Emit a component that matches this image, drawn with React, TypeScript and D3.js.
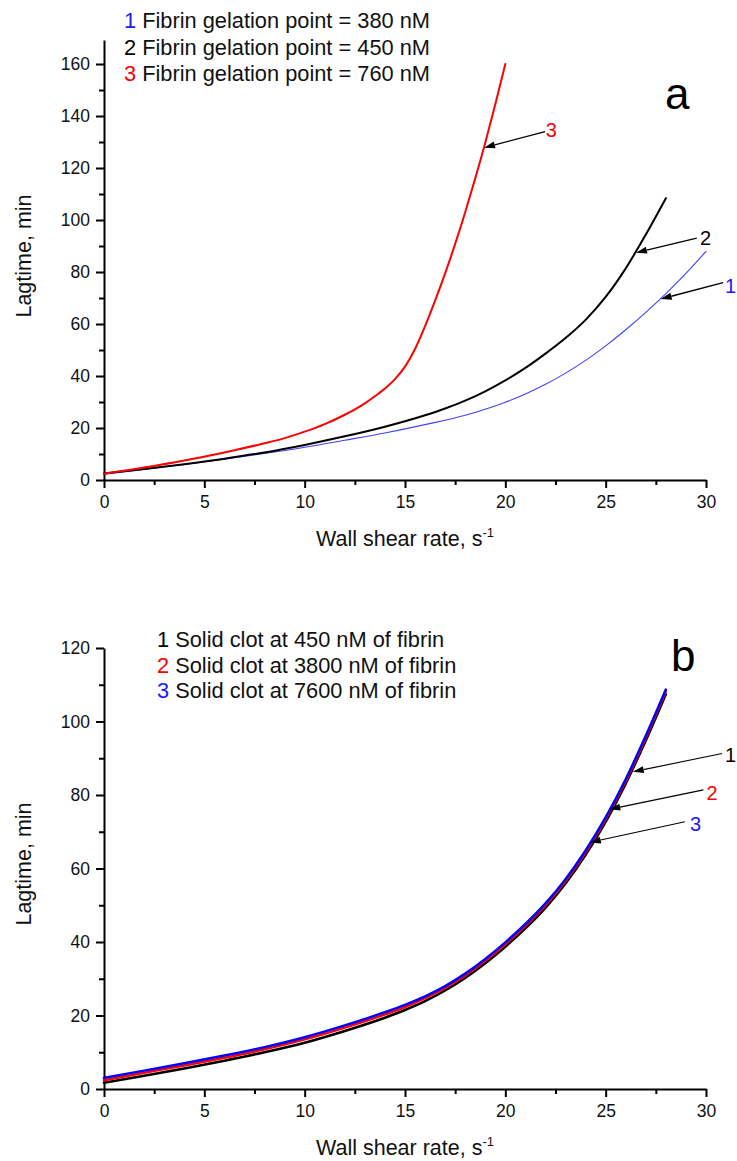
import React, { useEffect, useRef } from 'react';
import * as d3 from 'd3';

// ---------- data ----------
const X_TICKS = [0, 5, 10, 15, 20, 25, 30];
const X_MINOR = [2.5, 7.5, 12.5, 17.5, 22.5, 27.5];
const A_Y_TICKS = [0, 20, 40, 60, 80, 100, 120, 140, 160];
const A_Y_MINOR = [10, 30, 50, 70, 90, 110, 130, 150];
const B_Y_TICKS = [0, 20, 40, 60, 80, 100, 120];
const B_Y_MINOR = [10, 30, 50, 70, 90, 110];

// Panel a
const aX1 = [0, 2, 4, 6, 8, 10, 12, 14, 16, 18, 20, 21, 22, 23, 24, 25, 26, 27, 28, 29, 30];
const aY1 = [2.2, 4.1, 6.0, 8.0, 10.2, 12.6, 15.3, 18.1, 21.3, 24.9, 29.9, 33.1, 36.8, 41.1, 46.0, 51.6, 57.8, 64.5, 71.7, 79.5, 87.9];
const aX2 = [0, 2, 4, 6, 8, 10, 12, 14, 16, 17, 18, 19, 20, 21, 22, 23, 24, 25, 26, 27, 28];
const aY2 = [2.5, 4.2, 6.1, 8.2, 10.6, 13.5, 16.8, 20.5, 24.9, 27.5, 30.5, 34.1, 38.3, 43.1, 48.6, 54.6, 61.6, 70.4, 81.4, 94.4, 108.4];
const aX3 = [0, 2, 4, 6, 8, 9, 10, 11, 12, 13, 13.5, 14, 14.5, 15, 15.5, 16, 16.5, 17, 17.5, 18, 18.5, 19, 19.5, 20];
const aY3 = [2.4, 4.8, 7.5, 10.6, 14.1, 16.1, 18.6, 21.5, 25.1, 29.5, 32.2, 35.2, 38.8, 43.6, 50.4, 59.2, 69.0, 79.5, 90.8, 103, 116, 129.7, 144.5, 160];

const A_LEGEND_NUMS = ['1', '2', '3'];
const A_LEGEND_TEXT = ['Fibrin gelation point = 380 nM', 'Fibrin gelation point = 450 nM', 'Fibrin gelation point = 760 nM'];
const A_LEGEND_COLORS = ['#1a1aff', '#000000', '#ff0000'];

const aArrowLabels = ['1', '2', '3'];
const aArrowLabelColors = ['#1a1aff', '#000000', '#ff0000'];
const aArrowTipX = [27.74, 26.51, 18.94];
const aArrowTipY = [69.6, 87.4, 127.8];
const aArrowFromX = [30.85, 29.54, 21.98];
const aArrowFromY = [75.9, 93.0, 134.0];
const aLabelX = [30.95, 29.7, 22.01];
const aLabelY = [72.0, 90.4, 131.8];

// Panel b
const bX = [0, 2, 4, 6, 8, 10, 12, 14, 15, 16, 17, 18, 19, 20, 21, 22, 23, 24, 25, 26, 27, 28];
const bBlack = [1.7, 3.6, 5.6, 7.7, 10.0, 12.6, 15.8, 19.4, 21.5, 23.9, 26.8, 30.2, 34.2, 38.7, 43.7, 49.3, 55.9, 63.7, 72.7, 83.1, 94.8, 107.4];
const bRed = [2.4, 4.4, 6.4, 8.5, 10.8, 13.5, 16.7, 20.3, 22.3, 24.7, 27.5, 30.9, 34.9, 39.4, 44.4, 50.0, 56.6, 64.4, 73.4, 83.8, 95.6, 108.2];
const bBlue = [3.0, 5.0, 7.0, 9.1, 11.4, 14.1, 17.3, 20.9, 22.9, 25.2, 28.0, 31.4, 35.4, 39.9, 44.9, 50.5, 57.1, 64.9, 73.9, 84.3, 96.1, 108.7];

const B_LEGEND_NUMS = ['1', '2', '3'];
const B_LEGEND_TEXT = ['Solid clot at 450 nM of fibrin', 'Solid clot at 3800 nM of fibrin', 'Solid clot at 7600 nM of fibrin'];
const B_LEGEND_COLORS = ['#000000', '#ff0000', '#1a1aff'];

const bArrowLabels = ['1', '2', '3'];
const bArrowLabelColors = ['#000000', '#ff0000', '#1a1aff'];
const bArrowTipX = [26.35, 25.18, 24.21];
const bArrowTipY = [86.3, 76.1, 67.1];
const bArrowFromX = [30.8, 29.87, 28.95];
const bArrowFromY = [91.3, 81.4, 72.7];
const bLabelX = [30.95, 30.03, 29.2];
const bLabelY = [89.06, 78.6, 70.2];

const FONT = '"Liberation Sans", Arial, sans-serif';

type Series = { xs: number[]; ys: number[]; color: string; width: number };

function drawPanel(svg: any, cfg: any) {
  const x = d3.scaleLinear().domain([0, 30]).range([104, 706]);
  const y = d3.scaleLinear().domain(cfg.yDomain).range(cfg.yRange);
  const g = svg.append('g');

  const xAxis = d3.axisBottom(x).tickValues(X_TICKS).tickSize(8).tickPadding(8).tickSizeOuter(0).tickFormat(d3.format('d') as any);
  const xMinor = d3.axisBottom(x).tickValues(X_MINOR).tickSize(5).tickSizeOuter(0).tickFormat(() => '');
  const yAxis = d3.axisLeft(y).tickValues(cfg.yTicks).tickSize(8).tickPadding(6).tickSizeOuter(0).tickFormat(d3.format('d') as any);
  const yMinor = d3.axisLeft(y).tickValues(cfg.yMinor).tickSize(5).tickSizeOuter(0).tickFormat(() => '');

  const base = cfg.yRange[0];
  const gx = g.append('g').attr('transform', `translate(0,${base})`).call(xAxis);
  const gxm = g.append('g').attr('transform', `translate(0,${base})`).call(xMinor);
  const gy = g.append('g').attr('transform', `translate(104,0)`).call(yAxis);
  const gym = g.append('g').attr('transform', `translate(104,0)`).call(yMinor);
  [gx, gxm, gy, gym].forEach((a: any) => {
    a.selectAll('path').attr('stroke', '#000').attr('stroke-width', 2);
    a.selectAll('line').attr('stroke', '#000').attr('stroke-width', 2);
    a.selectAll('text').attr('font-family', FONT).attr('font-size', 17.5).attr('fill', '#111');
  });
  gxm.select('path').remove();
  gym.select('path').remove();

  const line = d3.line<[number, number]>().x(d => x(d[0])).y(d => y(d[1])).curve(d3.curveMonotoneX);
  cfg.series.forEach((s: Series) => {
    const pts: [number, number][] = s.xs.map((v, i) => [v, s.ys[i]]);
    g.append('path').attr('d', line(pts)).attr('fill', 'none').attr('stroke', s.color)
      .attr('stroke-width', s.width).attr('stroke-linejoin', 'round').attr('stroke-linecap', 'round');
  });

  const ar = cfg.arrows;
  ar.labels.forEach((lab: string, i: number) => {
    const x0 = x(ar.fromX[i]), y0 = y(ar.fromY[i]);
    const x1 = x(ar.tipX[i]), y1 = y(ar.tipY[i]);
    const ang = Math.atan2(y1 - y0, x1 - x0);
    const L = 11, hw = 3.5;
    const bx = x1 - L * Math.cos(ang), by = y1 - L * Math.sin(ang);
    g.append('line').attr('x1', x0).attr('y1', y0).attr('x2', bx).attr('y2', by)
      .attr('stroke', '#000').attr('stroke-width', ar.width);
    const px = -Math.sin(ang), py = Math.cos(ang);
    g.append('path')
      .attr('d', `M${x1},${y1}L${bx + px * hw},${by + py * hw}L${bx - px * hw},${by - py * hw}Z`)
      .attr('fill', '#000');
    g.append('text').attr('x', x(ar.labelX[i])).attr('y', y(ar.labelY[i]))
      .attr('font-family', FONT).attr('font-size', 20).attr('fill', ar.colors[i]).text(lab);
  });

  const lg = cfg.legend;
  lg.nums.forEach((n: string, i: number) => {
    const t = g.append('text').attr('x', lg.x).attr('y', lg.y0 + i * lg.dy)
      .attr('font-family', FONT).attr('font-size', 21.8).attr('fill', '#111');
    t.append('tspan').attr('fill', lg.colors[i]).text(n);
    t.append('tspan').text(' ' + lg.text[i]);
  });

  g.append('text').attr('x', cfg.letterX).attr('y', cfg.letterY)
    .attr('font-family', FONT).attr('font-size', 44).attr('fill', '#000').text(cfg.letter);

  const xt = g.append('text').attr('x', 405).attr('y', base + 66).attr('text-anchor', 'middle')
    .attr('font-family', FONT).attr('font-size', 21.5).attr('fill', '#111');
  xt.append('tspan').text('Wall shear rate, s');
  xt.append('tspan').attr('font-size', 13).attr('dy', -9).text('-1');

  g.append('text').attr('transform', `translate(31,${cfg.yTitleY}) rotate(-90)`).attr('text-anchor', 'middle')
    .attr('font-family', FONT).attr('font-size', 21.5).attr('fill', '#111').text('Lagtime, min');
}

export default function App() {
  const ref = useRef<SVGSVGElement>(null);
  useEffect(() => {
    const svg = d3.select(ref.current);
    svg.selectAll('*').remove();
    drawPanel(svg, {
      yDomain: [0, 169.23], yRange: [480, 40], yTicks: A_Y_TICKS, yMinor: A_Y_MINOR,
      series: [
        { xs: aX1, ys: aY1, color: '#4040ff', width: 1.1 },
        { xs: aX2, ys: aY2, color: '#000000', width: 2 },
        { xs: aX3, ys: aY3, color: '#ff0000', width: 2 },
      ],
      arrows: {
        labels: aArrowLabels, colors: aArrowLabelColors, tipX: aArrowTipX, tipY: aArrowTipY,
        fromX: aArrowFromX, fromY: aArrowFromY, labelX: aLabelX, labelY: aLabelY, width: 1.3,
      },
      legend: { x: 124, y0: 28, dy: 26.7, nums: A_LEGEND_NUMS, text: A_LEGEND_TEXT, colors: A_LEGEND_COLORS },
      letter: 'a', letterX: 665, letterY: 109, yTitleY: 256,
    });
    drawPanel(svg, {
      yDomain: [0, 120], yRange: [1089, 648], yTicks: B_Y_TICKS, yMinor: B_Y_MINOR,
      series: [
        { xs: bX, ys: bBlack, color: '#000000', width: 2.5 },
        { xs: bX, ys: bRed, color: '#ff0000', width: 2.5 },
        { xs: bX, ys: bBlue, color: '#0000ff', width: 2.5 },
      ],
      arrows: {
        labels: bArrowLabels, colors: bArrowLabelColors, tipX: bArrowTipX, tipY: bArrowTipY,
        fromX: bArrowFromX, fromY: bArrowFromY, labelX: bLabelX, labelY: bLabelY, width: 1.1,
      },
      legend: { x: 157, y0: 647, dy: 25.6, nums: B_LEGEND_NUMS, text: B_LEGEND_TEXT, colors: B_LEGEND_COLORS },
      letter: 'b', letterX: 671, letterY: 671, yTitleY: 864,
    });
  }, []);
  return (
    <svg ref={ref} width={737} height={1161}
      style={{ position: 'absolute', left: 0, top: 0, background: '#fff', display: 'block' }} />
  );
}
